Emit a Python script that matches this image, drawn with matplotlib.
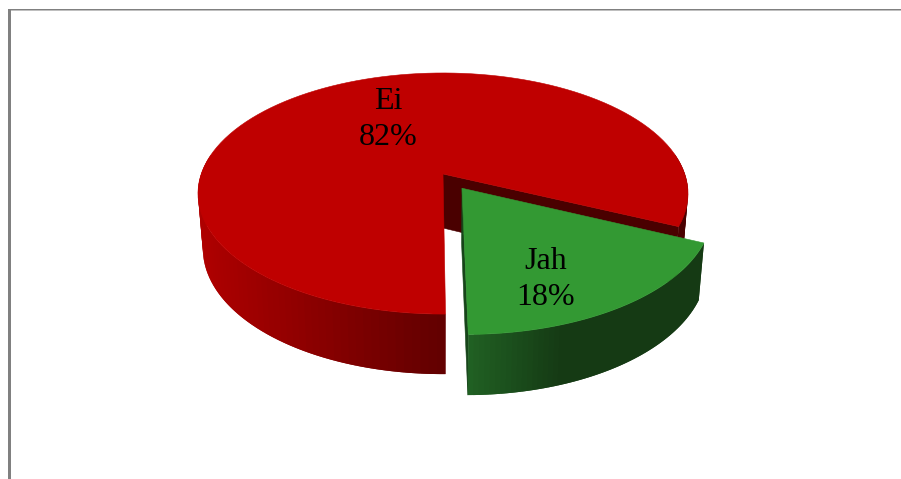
#!/usr/bin/env python3

import matplotlib
matplotlib.use("Agg")
import matplotlib.pyplot as plt
import numpy as np

labels = ["Ei", "Jah"]
shares = [82, 18]

CX, CY = 443.0, 174.0
A, B, K = 241.8, 117.4, 0.162
START = -89.5
EXPLODE = 0.1415


def project(u, v, lower=False):
    # disc plane to pixels, with a simple perspective divide
    w = 1 + K * v
    x = A * u / w
    y = -B * v / w
    if lower:
        x = x * 0.98
        y = y + 54 - 6 * v
    return CX + x, CY + y


def arc(t0, t1, n=120):
    t = np.radians(np.linspace(t0, t1, n))
    return np.cos(t), np.sin(t)


def face(ax, us, vs, color, lower=False, z=1):
    x, y = project(np.asarray(us, dtype=float), np.asarray(vs, dtype=float), lower)
    ax.fill(x, y, color=color, lw=0.4, zorder=z)


def wall(ax, t0, t1, colorfn, du=0.0, dv=0.0, z=1, n=60):
    # outer rim cut in thin strips so the shading can vary along it,
    # each strip runs under the next one to hide the seams
    edges = np.linspace(t0, t1, n + 1)
    step = edges[1] - edges[0]
    for i in range(n):
        a = edges[i]
        b = edges[i + 1] + (step if i < n - 1 else 0)
        u, v = arc(a, b, 4)
        u, v = u + du, v + dv
        xt, yt = project(u, v)
        xb, yb = project(u, v, lower=True)
        xs = np.r_[xt, xb[::-1]]
        ys = np.r_[yt, yb[::-1]]
        ax.fill(xs, ys, color=colorfn(xs.mean()), lw=0, zorder=z)


def red_shade(x):
    f = np.clip((x - 200) / 245, 0, 1)
    return ((176 - 78 * f) / 255, 0, 0)


def green_shade(x):
    f = np.clip((x - 468) / 95, 0, 1)
    return ((33 - 12 * f) / 255, (98 - 40 * f) / 255, (36 - 16 * f) / 255)


sweep = [360 * s / sum(shares) for s in shares]
green_end = START + sweep[1]
red_end = green_end + sweep[0]
mid = np.radians((START + green_end) / 2)
du, dv = EXPLODE * np.cos(mid), EXPLODE * np.sin(mid)

fig = plt.figure(figsize=(9.01, 4.79), dpi=100)
ax = fig.add_axes([0, 0, 1, 1])
ax.set_xlim(0, 901)
ax.set_ylim(479, 0)
ax.axis("off")

# chart frame, only the top and left edges show
ax.fill([8, 901, 901, 8], [9, 9, 10.5, 10.5], color="#808080", lw=0, snap=False)
ax.fill([8, 11, 11, 8], [9, 9, 479, 479], color="#808080", lw=0, snap=False)

# large slice
wall(ax, 170, red_end, red_shade, z=1)
wall(ax, green_end, 10, lambda x: "#4a0000", z=1, n=10)
u, v = arc(green_end, red_end)
face(ax, np.r_[0, u], np.r_[0, v], "#bf0000", z=3)

# cut face left open by the pulled out slice
ue, ve = np.cos(np.radians(green_end)), np.sin(np.radians(green_end))
xt, yt = project(np.array([0.0, ue]), np.array([0.0, ve]))
xb, yb = project(np.array([ue, 0.0]), np.array([ve, 0.0]), lower=True)
ax.fill(np.r_[xt, xb], np.r_[yt, yb], color="#4a0000", lw=0.4, zorder=2)

# small slice
us, vs = np.cos(np.radians(START)), np.sin(np.radians(START))
xt, yt = project(np.array([du, us + du]), np.array([dv, vs + dv]))
xb, yb = project(np.array([us + du, du]), np.array([vs + dv, dv]), lower=True)
ax.fill(np.r_[xt, xb], np.r_[yt, yb], color="#17451a", lw=0.4, zorder=4)
wall(ax, START, green_end, green_shade, du, dv, z=5)
u, v = arc(START, green_end)
face(ax, np.r_[0, u] + du, np.r_[0, v] + dv, "#339933", z=6)

text_style = dict(family=["Liberation Serif", "DejaVu Serif"], fontsize=23, color="black",
                  ha="center", va="center", linespacing=1.3, zorder=7)
ax.text(388.5, 119.5, f"{labels[0]}\n{shares[0]}%", **text_style)
ax.text(546, 279.5, f"{labels[1]}\n{shares[1]}%", **text_style)

fig.savefig("out.png", dpi=100)
